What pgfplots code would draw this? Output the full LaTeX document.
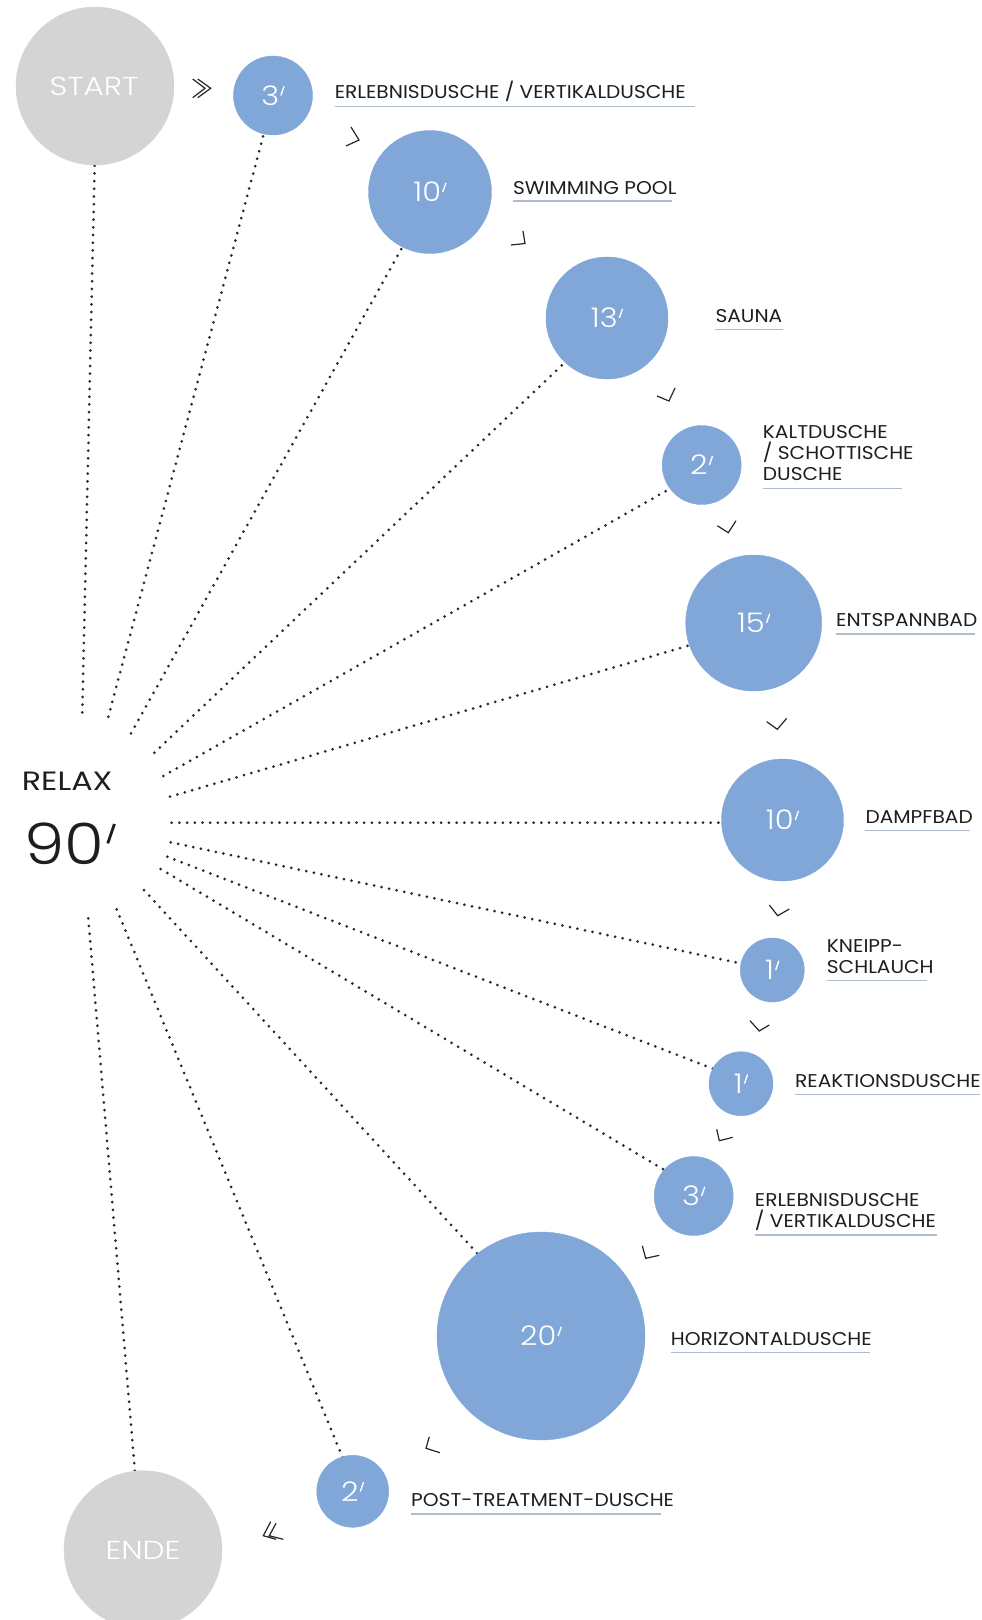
\documentclass[border=0pt]{standalone}
\usepackage{pgfplots}
\pgfplotsset{compat=1.18}
\usepackage{graphicx}
\usepackage{fontspec}
\setmainfont{Poppins}
\IfFontExistsTF{Poppins Light}{\def\lightname{Poppins Light}}{\def\lightname{Poppins}}
\newfontfamily\lightfont{\lightname}
\newfontfamily\numfont{\lightname}[FakeStretch=1.13]
\newfontfamily\lightwide{\lightname}[FakeStretch=1.2]
\newfontfamily\lblfont{Poppins}[FakeStretch=1.09]
\newfontfamily\relaxfont{Poppins}[FakeStretch=1.2]
\newcommand{\pr}{\kern0.04em\raisebox{0.37em}{\rotatebox{-19}{\rule{0.05em}{0.36em}}}}
\definecolor{cblue}{HTML}{80A7D8}
\definecolor{cgray}{HTML}{D4D4D4}
\definecolor{dotc}{HTML}{262938}
\definecolor{ulc}{HTML}{AEBCCB}
\definecolor{txt}{HTML}{1E1E1E}
\tikzset{lbl/.style={anchor=base west, inner sep=0pt, text=txt, font=\lblfont\fontsize{18.5}{20}\selectfont},
  num/.style={anchor=center, inner sep=0pt, text=white, font=\numfont\fontsize{27}{29}\selectfont}}
\begin{document}
\begin{tikzpicture}
\begin{axis}[name=ax, width=982pt, height=1620pt, scale only axis,
  xmin=0, xmax=982, ymin=0, ymax=1620, y dir=reverse,
  hide axis, clip=true, clip marker paths=true, unbounded coords=jump]

% dotted radial lines (hub start -> circle)
\addplot[dotc, line width=3pt, line cap=round, dash pattern=on 0pt off 7.7pt] coordinates {
(82.3,712.3) (95,150) (nan,nan)
(108.3,716.7) (264.9,129.6) (nan,nan)
(131,733.3) (404.4,243.6) (nan,nan)
(154.3,752.7) (565.8,361.6) (nan,nan)
(163.3,776) (670.4,488.5) (nan,nan)
(170,796.7) (692.1,644.6) (nan,nan)
(171.7,822.7) (727,822.7) (nan,nan)
(170.7,842.3) (742.2,963.7) (nan,nan)
(167.3,856.7) (716.4,1070.1) (nan,nan)
(160.7,869) (667.6,1171.9) (nan,nan)
(144,890) (479.4,1255.7) (nan,nan)
(116.7,909.3) (343.9,1460.6) (nan,nan)
(88.3,918.3) (135,1472)
};

% blue circles: x y radius
\addplot[scatter, only marks, mark=*,
  scatter/use mapped color={draw=cblue, fill=cblue},
  visualization depends on={\thisrow{r}\as\rad},
  scatter/@pre marker code/.append style={/tikz/mark size=\rad pt}]
  table {
x y r
273 95.5 39.5
430 192 61.5
607 318 61
701.7 465 39.5
753.7 623 68
782.5 820 61
772.3 970 32
741 1083.7 32
693.7 1196 39.5
541 1336 104
352.7 1491.3 36
};

% grey circles START / ENDE
\addplot[scatter, only marks, mark=*,
  scatter/use mapped color={draw=cgray, fill=cgray},
  visualization depends on={\thisrow{r}\as\rad},
  scatter/@pre marker code/.append style={/tikz/mark size=\rad pt}]
  table {
x y r
95 86 79
143 1549.7 79
};

% underlines
\addplot[ulc, line width=1.4pt] coordinates {
(334.6,106.7) (694.6,106.7) (nan,nan)
(512.8,201) (671.7,201) (nan,nan)
(715.3,329.3) (782.8,329.3) (nan,nan)
(762.7,488.3) (902,488.3) (nan,nan)
(836,634) (975,634) (nan,nan)
(865.3,830.7) (970,830.7) (nan,nan)
(826.7,980.7) (927,980.7) (nan,nan)
(795,1094.3) (980,1094.3) (nan,nan)
(754.7,1235) (937,1235) (nan,nan)
(670.7,1352.7) (870,1352.7) (nan,nan)
(411,1514) (660.5,1514)
};

% chevrons
\addplot[black!85, line width=1.2pt, line join=miter] coordinates {
(192.7,79) (205,88.3) (192.7,97.7) (nan,nan)
(197.7,79) (210.7,88.3) (197.7,97.7) (nan,nan)
(351,127) (359,140) (346,146) (nan,nan)
(523,231) (525,243.5) (511,245) (nan,nan)
(657,396) (669,401) (675,388) (nan,nan)
(717.3,525.7) (728.3,532.7) (736,520.7) (nan,nan)
(766.7,721.7) (777.3,729.3) (786.7,718.3) (nan,nan)
(769.3,905) (777.7,915.7) (789.3,909) (nan,nan)
(750,1020.7) (759.3,1031) (769.3,1025) (nan,nan)
(716.7,1129.3) (719.3,1140.7) (732.7,1137.3) (nan,nan)
(642.3,1245.7) (645.7,1258.3) (659.3,1255.3) (nan,nan)
(429.3,1436.7) (426,1448.3) (440,1452.7) (nan,nan)
(270.7,1521.7) (263.3,1535.7) (276,1539.3) (nan,nan)
(276,1523.3) (269.3,1535.7) (283.3,1539.3)
};

% numbers in circles
\node[num] at (axis cs:273,95.5) {3\pr};
\node[num] at (axis cs:430,192) {10\pr};
\node[num] at (axis cs:607,318) {13\pr};
\node[num] at (axis cs:701.7,465) {2\pr};
\node[num] at (axis cs:753.7,623) {15\pr};
\node[num] at (axis cs:782.5,820) {10\pr};
\node[num] at (axis cs:772.3,970) {1\pr};
\node[num] at (axis cs:741,1083.7) {1\pr};
\node[num] at (axis cs:693.7,1196) {3\pr};
\node[num] at (axis cs:541,1336) {20\pr};
\node[num] at (axis cs:352.7,1491.3) {2\pr};
\node[anchor=center, inner sep=0pt, text=white, font=\lightwide\fontsize{26}{28}\selectfont] at (axis cs:94,86) {START};
\node[anchor=center, inner sep=0pt, text=white, font=\lightwide\fontsize{26}{28}\selectfont] at (axis cs:143,1550) {ENDE};

% hub
\node[anchor=base west, inner sep=0pt, text=txt, font=\relaxfont\fontsize{26.5}{28}\selectfont] at (axis cs:21.7,790) {RELAX};
\node[anchor=base west, inner sep=0pt, text=txt, font=\numfont\fontsize{57}{60}\selectfont] at (axis cs:24,864) {90\pr};

% labels
\node[lbl] at (axis cs:334.6,98.7) {ERLEBNISDUSCHE / VERTIKALDUSCHE};
\node[lbl] at (axis cs:512.8,194.3) {SWIMMING POOL};
\node[lbl] at (axis cs:715.3,322.3) {SAUNA};
\node[lbl] at (axis cs:762.7,438.3) {KALTDUSCHE};
\node[lbl] at (axis cs:762.7,459.3) {/ SCHOTTISCHE};
\node[lbl] at (axis cs:762.7,480) {DUSCHE};
\node[lbl] at (axis cs:836,626) {ENTSPANNBAD};
\node[lbl] at (axis cs:865.3,823.3) {DAMPFBAD};
\node[lbl] at (axis cs:826.7,952.3) {KNEIPP-};
\node[lbl] at (axis cs:826.7,973.3) {SCHLAUCH};
\node[lbl] at (axis cs:795,1087.3) {REAKTIONSDUSCHE};
\node[lbl] at (axis cs:754.7,1206) {ERLEBNISDUSCHE};
\node[lbl] at (axis cs:754.7,1227.3) {/ VERTIKALDUSCHE};
\node[lbl] at (axis cs:670.7,1345.7) {HORIZONTALDUSCHE};
\node[lbl] at (axis cs:411,1506) {POST-TREATMENT-DUSCHE};
\end{axis}
\pgfresetboundingbox
\useasboundingbox (ax.south west) rectangle (ax.north east);
\end{tikzpicture}
\end{document}
